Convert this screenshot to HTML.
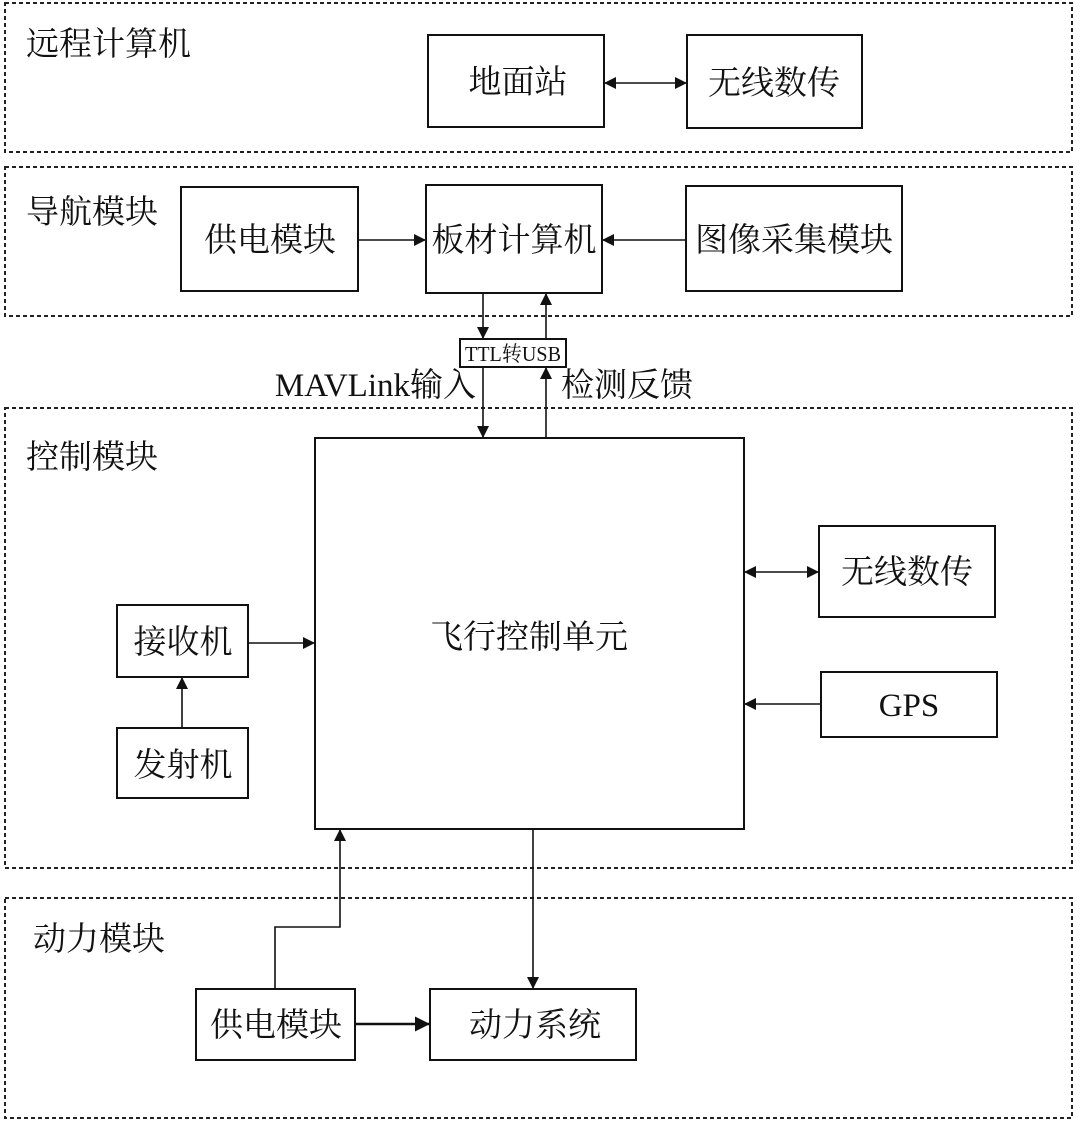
<!DOCTYPE html>
<html><head><meta charset="utf-8"><style>
html,body{margin:0;padding:0;background:#fff;}
svg text{font-family:"Liberation Serif","Noto Serif CJK SC",serif;fill:#111;}
</style></head><body>
<svg width="1080" height="1121" viewBox="0 0 1080 1121" xmlns="http://www.w3.org/2000/svg">
<defs>
<marker id="a" markerWidth="12" markerHeight="12" refX="11" refY="6" orient="auto-start-reverse" markerUnits="userSpaceOnUse" viewBox="0 0 12 12"><path d="M0,0 L12,6 L0,12 z" fill="#111"/></marker>
<marker id="b" markerWidth="15" markerHeight="15" refX="14" refY="7.5" orient="auto" markerUnits="userSpaceOnUse" viewBox="0 0 15 15"><path d="M0,0 L15,7.5 L0,15 z" fill="#111"/></marker>
</defs>
<g fill="none" stroke="#222" stroke-width="2" stroke-dasharray="4,3">
<rect x="5" y="3" width="1067" height="149"/>
<rect x="5" y="167" width="1067" height="149"/>
<rect x="5" y="408" width="1067" height="460"/>
<rect x="5" y="898" width="1067" height="220"/>
</g>
<g fill="#fff" stroke="#111" stroke-width="2">
<rect x="428" y="35" width="176" height="92"/>
<rect x="687" y="35" width="175" height="93"/>
<rect x="181" y="187" width="177" height="104"/>
<rect x="426" y="185" width="176" height="108"/>
<rect x="686" y="186" width="216" height="105"/>
<rect x="315" y="438" width="429" height="391"/>
<rect x="819" y="526" width="176" height="91"/>
<rect x="821" y="672" width="176" height="65"/>
<rect x="117" y="605" width="131" height="72"/>
<rect x="117" y="728" width="131" height="70"/>
<rect x="196" y="989" width="159" height="71"/>
<rect x="430" y="989" width="206" height="71"/>
</g>
<g stroke="#111" stroke-width="1.6" fill="none">
<line x1="605" y1="83" x2="686" y2="83" marker-end="url(#a)" marker-start="url(#a)"/>
<line x1="358" y1="240" x2="425" y2="240" marker-end="url(#a)"/>
<line x1="686" y1="240" x2="603" y2="240" marker-end="url(#a)"/>
<line x1="483" y1="293" x2="483" y2="338" marker-end="url(#a)"/>
<line x1="546" y1="339" x2="546" y2="294" marker-end="url(#a)"/>
<line x1="483" y1="367" x2="483" y2="437" marker-end="url(#a)"/>
<line x1="546" y1="438" x2="546" y2="368" marker-end="url(#a)"/>
<line x1="745" y1="572" x2="818" y2="572" marker-end="url(#a)" marker-start="url(#a)"/>
<line x1="821" y1="704" x2="745" y2="704" marker-end="url(#a)"/>
<line x1="248" y1="643" x2="314" y2="643" marker-end="url(#a)"/>
<line x1="182" y1="728" x2="182" y2="678" marker-end="url(#a)"/>
<polyline points="275,989 275,927 340,927 340,830" marker-end="url(#a)"/>
<line x1="533" y1="829" x2="533" y2="988" marker-end="url(#a)"/>
<line x1="355" y1="1024" x2="429" y2="1024" stroke-width="2.5" marker-end="url(#b)"/>
</g>
<rect x="460" y="339" width="106" height="28" fill="#fff" stroke="#111" stroke-width="2"/>
<text x="513" y="361" font-size="21" text-anchor="middle" textLength="96" lengthAdjust="spacingAndGlyphs">TTL转USB</text>
<g font-size="33">
<text x="26" y="55">远程计算机</text>
<text x="26" y="223">导航模块</text>
<text x="26" y="468">控制模块</text>
<text x="33" y="950">动力模块</text>
<text x="518" y="93" text-anchor="middle">地面站</text>
<text x="774" y="94" text-anchor="middle">无线数传</text>
<text x="270" y="251" text-anchor="middle">供电模块</text>
<text x="514" y="251" text-anchor="middle">板材计算机</text>
<text x="794" y="251" text-anchor="middle">图像采集模块</text>
<text x="476" y="396" text-anchor="end">MAVLink输入</text>
<text x="561" y="396">检测反馈</text>
<text x="529" y="648" text-anchor="middle">飞行控制单元</text>
<text x="907" y="583" text-anchor="middle">无线数传</text>
<text x="909" y="716" text-anchor="middle">GPS</text>
<text x="183" y="653" text-anchor="middle">接收机</text>
<text x="183" y="776" text-anchor="middle">发射机</text>
<text x="276" y="1036" text-anchor="middle">供电模块</text>
<text x="535" y="1036" text-anchor="middle">动力系统</text>
</g>
</svg>
</body></html>
